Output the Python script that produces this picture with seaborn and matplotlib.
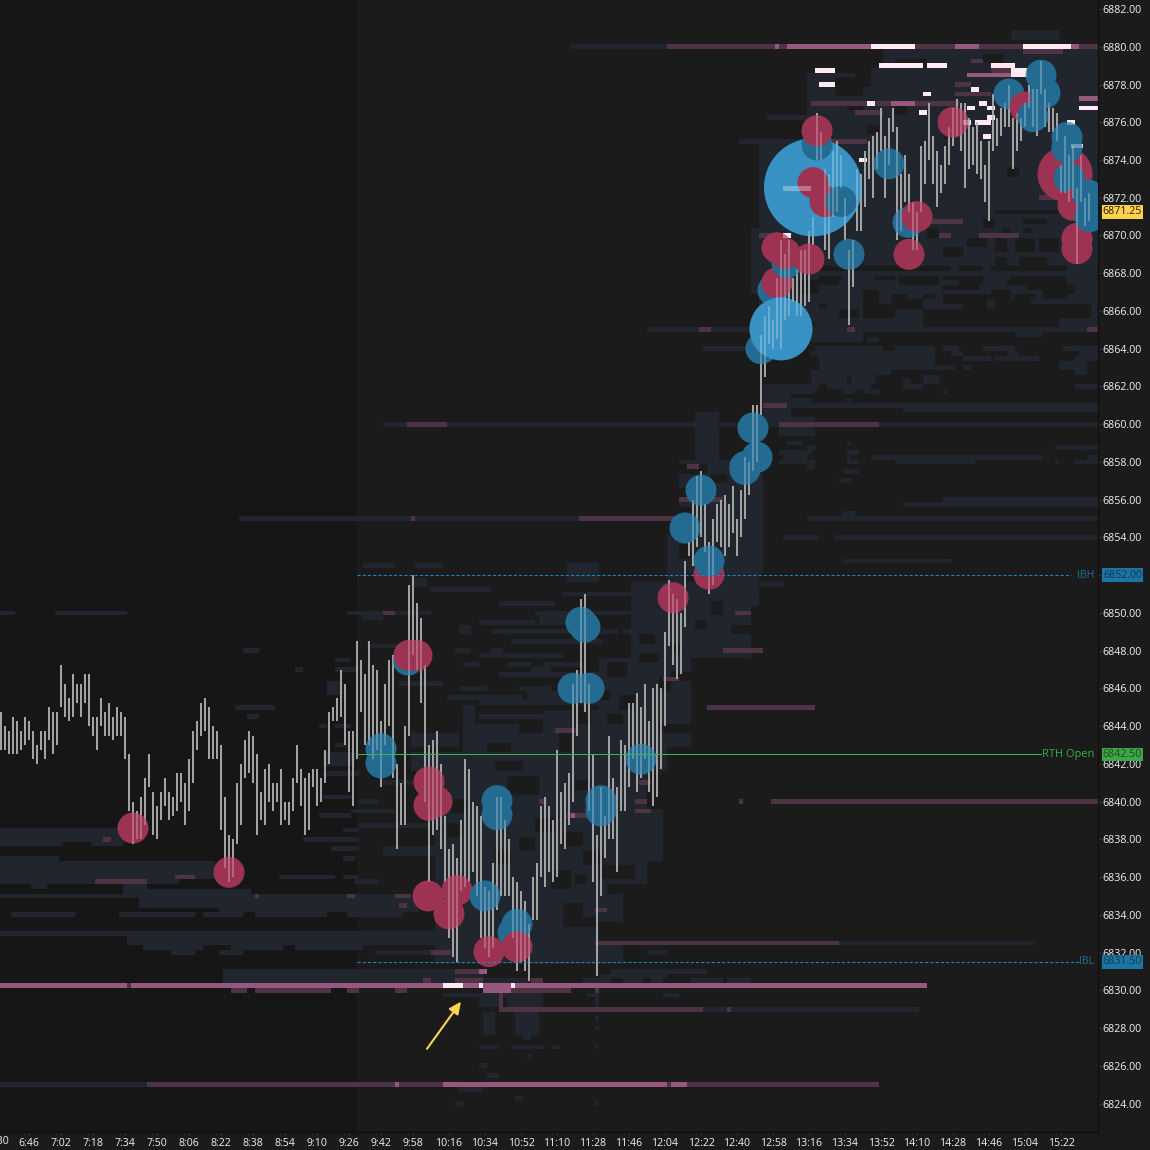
import numpy as np
import pandas as pd
import seaborn as sns
import matplotlib
matplotlib.use("Agg")
import matplotlib.pyplot as plt
from matplotlib.colors import ListedColormap
from matplotlib.transforms import blended_transform_factory

# bars are two minutes apart, first one at 6:32
FIRST_BAR_MIN = 392
BAR_HIGHS = [
    6844.75, 6844, 6843.75, 6844.5, 6844.25, 6843.75, 6844.5, 6844.25, 6843.75, 6843, 6843.75, 6843.75,
    6845, 6844.75, 6844.75, 6847.25, 6846.25, 6845.5, 6846.75, 6846.25, 6846.25, 6846.75, 6846.75, 6844.5,
    6844.5, 6845.5, 6844.75, 6845.25, 6844.5, 6845, 6844.75, 6844.5, 6842.5, 6840, 6839.5, 6840.25,
    6841.25, 6842.5, 6840.5, 6839.75, 6840.5, 6841.25, 6840.5, 6840.25, 6841.5, 6841.5, 6841, 6842.25,
    6843.75, 6844.25, 6845.25, 6845.5, 6845, 6844, 6843.75, 6843, 6840.25, 6838.25, 6838, 6841,
    6842, 6843.25, 6843.75, 6843.5, 6842.5, 6840.5, 6841.75, 6842, 6841, 6841, 6841.75, 6840,
    6840, 6841.25, 6843, 6841.75, 6841.25, 6841.5, 6841.75, 6841.75, 6841.25, 6842.75, 6844.75, 6845,
    6845.5, 6847, 6846.25, 6843.75, 6843.75,
    6848.5, 6847.5, 6846.75, 6848.5, 6847.25, 6847, 6844.25, 6846.25, 6847.5, 6847.75, 6842, 6841,
    6844, 6851.5, 6852, 6850.5, 6849.75, 6847.25, 6843, 6843.25, 6843.75, 6842, 6839.25, 6837.5,
    6837.75, 6837, 6839, 6842.25, 6841.75, 6840, 6839.75, 6839.25, 6835.5, 6835.25, 6836.75, 6840.25,
    6840.25, 6839, 6838, 6836, 6835.75, 6835.25, 6834.75, 6833.5, 6836, 6836.75, 6839.75, 6840.25,
    6839.75, 6839, 6842.75, 6840.5, 6841, 6841.5, 6846.25, 6847, 6850.75, 6851, 6846.25, 6842.5,
    6838.25, 6840.75, 6839.25, 6843.5, 6841.25, 6840.75, 6843.25, 6843, 6845.25, 6845.25, 6845.75, 6845,
    6846.25, 6844.25, 6846, 6846.25, 6846, 6849, 6851.75, 6851, 6850.75, 6850, 6852.75,
    6853.75, 6856, 6857.25, 6857.5, 6855.75, 6853.75, 6855, 6855.75, 6856, 6856.25, 6855.75, 6856.75,
    6855, 6856.5, 6858.25, 6858, 6861, 6861, 6864.75, 6865.75, 6866.25, 6865.5,
    6867.75, 6869.75, 6869, 6869.75, 6867.75, 6868.25, 6869.25, 6869.25, 6870.25, 6871, 6876.5, 6875.5,
    6873.5, 6873.25, 6874.5, 6875, 6874.25, 6872, 6869.25, 6869.75, 6873.5, 6873.25, 6874.5, 6875,
    6875.25, 6875.5, 6876.75, 6875.25, 6876.25, 6876.75, 6875.75, 6873.25, 6874.25, 6873.25, 6871.75, 6871.25,
    6874.75, 6875, 6877, 6875.25, 6874.5, 6873.75, 6874.75, 6875.75, 6876.75, 6877.25, 6877, 6877,
    6876.25, 6875.75, 6876, 6875, 6873.75, 6875, 6877.5, 6876.25, 6876.75, 6877, 6878, 6876.25,
    6876.5, 6876.25, 6877, 6878, 6877.75, 6877.75, 6879.25, 6877.75, 6877, 6876.75, 6876.5,
    6873.75, 6875.25, 6874.25, 6874.75, 6872.5, 6874.25, 6872, 6872.25,
]
BAR_LOWS = [
    6842.75, 6842.75, 6842.5, 6842.5, 6842.5, 6842.75, 6843, 6843.25, 6842.25, 6842, 6842.75, 6842.25,
    6843.25, 6842.5, 6843, 6845, 6844.5, 6844.25, 6844.5, 6845.25, 6844.5, 6845.25, 6844, 6843.5,
    6842.75, 6844, 6843.5, 6843.5, 6843.25, 6843.5, 6843.5, 6842.25, 6839.5, 6837.75, 6838, 6838,
    6838.75, 6840.75, 6838.25, 6838, 6839, 6839.75, 6839, 6839.25, 6839.5, 6840, 6838.75, 6839.5,
    6841, 6842.75, 6843.5, 6843.75, 6842.25, 6842.25, 6842.25, 6838.5, 6836.5, 6835.75, 6836, 6837.75,
    6838.75, 6841.25, 6841.5, 6841, 6838.25, 6839, 6838.75, 6840, 6839.5, 6840, 6838.75, 6839,
    6838.75, 6839.5, 6841, 6839.75, 6838.25, 6838.5, 6840.75, 6839.75, 6840, 6841, 6842, 6844.25,
    6844.25, 6844.5, 6843, 6840.5, 6839.75,
    6842.25, 6844.75, 6843, 6843, 6842.25, 6842.75, 6840.75, 6843, 6844, 6841.25, 6837.5, 6838.75,
    6838.75, 6843.5, 6847.75, 6847, 6845.25, 6840, 6835.75, 6838.25, 6838.5, 6837.5, 6835.75, 6832.75,
    6831.75, 6831.5, 6835.25, 6835.5, 6835.75, 6836.25, 6835, 6832.75, 6832.25, 6831.75, 6832.25, 6834.25,
    6835, 6835, 6835, 6832.75, 6831, 6831.5, 6831, 6830.5, 6833.75, 6833.75, 6836, 6835.5,
    6836.25, 6835.75, 6836, 6837.75, 6837.5, 6838.75, 6840, 6843.5, 6845.25, 6844.75, 6839.5, 6835.75,
    6830.75, 6835, 6837, 6838, 6838, 6836.25, 6839.5, 6839.5, 6840.75, 6842.25, 6840.5, 6841.25,
    6842.25, 6840.5, 6839.75, 6840.25, 6841.75, 6844, 6848.25, 6847.25, 6846.5, 6846.75, 6849.25,
    6853, 6852.5, 6853.5, 6854, 6853.25, 6851, 6851.5, 6853.75, 6853.5, 6853, 6853.5, 6854.25,
    6853, 6854, 6855, 6856.25, 6857.5, 6858, 6860.5, 6862.5, 6864.25, 6864,
    6864.5, 6864, 6865.5, 6865.75, 6866.5, 6865.75, 6865.75, 6866.25, 6866.5, 6869.5, 6874, 6874,
    6869.25, 6868.75, 6871, 6871.25, 6872.5, 6869.75, 6865.25, 6867.25, 6870.25, 6870.25, 6871.5, 6873,
    6872, 6873.5, 6874.5, 6872, 6873.75, 6875.5, 6869.75, 6870.25, 6871.75, 6871.25, 6869.25, 6869.25,
    6871.25, 6872.75, 6874, 6872.75, 6871.5, 6872.25, 6872.75, 6873.75, 6874.75, 6875.25, 6874.5, 6872.5,
    6873.5, 6873.75, 6873.25, 6873, 6871.75, 6870.75, 6874.5, 6874.75, 6875.25, 6875.75, 6875.75, 6873.5,
    6874.5, 6875, 6875.75, 6876.75, 6875.75, 6875.25, 6877.5, 6875.75, 6875.5, 6875.5, 6875,
    6872.25, 6872.25, 6871.75, 6872, 6868.5, 6871.75, 6870.5, 6870.75,
]

# large trades: minute of day, price, side, diameter class, in drawing order
BUBBLE_MIN = [458, 506, 582, 582, 595.5, 600, 596, 606, 610, 606, 640, 640, 605.5, 620, 616, 634, 648, 650,
              636, 650, 682, 684, 678, 686, 712, 692, 692, 728, 742, 734, 746, 746, 768, 770, 764, 764,
              772, 778, 780, 782, 780, 785.5, 785, 784, 796, 798, 798, 804, 812, 800, 800, 816, 836, 845.5,
              850, 846, 868, 896, 904, 912, 914, 908, 924, 925, 925, 926, 928, 930, 930, 935.5, 936.5]
BUBBLE_PRICE = [6838.6, 6836.25, 6842.8, 6842.05, 6847.5, 6847.75, 6847.75, 6841.05, 6840, 6839.8, 6840.05, 6839.3, 6835, 6835.3, 6834.05, 6835, 6833.05, 6833.5,
                6832.05, 6832.3, 6849.5, 6849.25, 6846, 6846, 6842.25, 6840.05, 6839.5, 6850.8, 6856.5, 6854.5, 6852.05, 6852.75, 6859.8, 6858.25, 6857.75, 6857.6,
                6864, 6867.1, 6867.5, 6865.05, 6869.35, 6868.8, 6868.55, 6869.05, 6868.75, 6872.55, 6872.8, 6871.8, 6871.8, 6874.8, 6875.55, 6869, 6873.8, 6870.7,
                6871, 6869, 6876, 6877.5, 6876.8, 6878.5, 6877.55, 6876.3, 6873.25, 6875.2, 6874.65, 6873.05, 6871.6, 6869.85, 6869.3, 6872.15, 6871]
BUBBLE_SIDE = ["sell", "sell", "buy", "buy", "buy", "sell", "sell", "sell", "sell", "sell", "buy", "buy", "sell", "sell", "sell", "buy", "buy", "buy",
               "sell", "sell", "buy", "buy", "buy", "buy", "buy", "buy", "buy", "sell", "buy", "buy", "sell", "buy", "buy", "buy", "buy", "buy",
               "buy", "buy", "sell", "large", "sell", "buy", "buy", "sell", "sell", "large", "sell", "sell", "buy", "buy", "sell", "buy", "buy", "buy",
               "sell", "sell", "sell", "buy", "sell", "buy", "buy", "buy", "sell", "buy", "buy", "buy", "sell", "sell", "sell", "buy", "buy"]
BUBBLE_CLASS = ["m", "m", "m", "m", "m", "m", "m", "m", "m", "m", "m", "m", "m", "m", "m", "m", "m", "m",
                "m", "m", "m", "m", "m", "m", "m", "m", "m", "m", "m", "m", "m", "m", "m", "m", "m", "m",
                "m", "m", "m", "l", "m", "m", "m", "m", "m", "xl", "m", "m", "m", "m", "m", "m", "m", "m",
                "m", "m", "m", "m", "m", "m", "m", "m", "k", "m", "m", "m", "m", "m", "m", "m", "m"]

Y_TICKS = list(range(6824, 6884, 2))
X_TICK_MIN = [406, 422, 438, 454, 470, 486, 502, 518, 534, 550, 566, 582, 598, 616, 634, 652, 670, 688, 706, 724, 742, 760, 778,
              796, 814, 832, 850, 868, 886, 904, 922]
X_TICK_LABELS = ["6:46", "7:02", "7:18", "7:34", "7:50", "8:06", "8:22", "8:38", "8:54", "9:10", "9:26", "9:42", "9:58", "10:16",
                 "10:34", "10:52", "11:10", "11:28", "11:46", "12:04", "12:22", "12:40", "12:58", "13:16", "13:34", "13:52", "14:10",
                 "14:28", "14:46", "15:04", "15:22"]
RTH_START = 570
IBH, IBL, RTH_OPEN, LAST_PRICE = 6852.0, 6831.5, 6842.5, 6871.25

# resting-liquidity cells: (price high, price low, first bar, last bar)
HEAT_BLUE = [
    (6838.5, 6838, 0, 31), (6837.75, 6837.75, 0, 15), (6837.75, 6837.75, 23, 30), (6837, 6837, 0, 14),
    (6836.75, 6836, 0, 53), (6835.75, 6835.75, 0, 44), (6835.5, 6835.5, 8, 11), (6835.5, 6835.5, 31, 36),
    (6835.25, 6835.25, 31, 62), (6835, 6835, 0, 102), (6834.75, 6834.5, 35, 107), (6834.25, 6834.25, 55, 104),
    (6834, 6834, 3, 18), (6834, 6834, 30, 48), (6834, 6834, 51, 60), (6834, 6834, 64, 81), (6834, 6834, 87, 100),
    (6833, 6833, 0, 112), (6832.75, 6832.5, 32, 112), (6832.25, 6832.25, 36, 50), (6832.25, 6832.25, 58, 70),
    (6832.25, 6832.25, 74, 90), (6832, 6832, 43, 48), (6832, 6832, 55, 60), (6832, 6832, 94, 112),
    (6831, 6830.5, 56, 120), (6830.5, 6830.5, 120, 135), (6830.75, 6830.75, 150, 166), (6831, 6831, 153, 176),
    (6830.5, 6830.5, 146, 152), (6830.5, 6830.5, 156, 160), (6830.5, 6830.5, 163, 165), (6830.5, 6830.5, 173, 180),
    (6830.5, 6830.5, 182, 187), (6832, 6832, 149, 166),
    (6829.75, 6829.75, 111, 135), (6829.75, 6829.75, 147, 149), (6829.75, 6829.75, 166, 169),
    (6829.5, 6829.25, 120, 125), (6829.5, 6829.25, 127, 135), (6829.5, 6829.25, 149, 149),
    (6829, 6829, 176, 181), (6829, 6829, 183, 229), (6828.75, 6827.75, 121, 123), (6828.75, 6827.75, 129, 134),
    (6827.5, 6827.5, 131, 132), (6828.5, 6828.5, 149, 149), (6828, 6828, 149, 149),
    (6827, 6827, 120, 124), (6827, 6827, 128, 135), (6827, 6827, 138, 139), (6827, 6827, 149, 149),
    (6826.5, 6826.5, 132, 132), (6826, 6826, 120, 121), (6825.5, 6825.5, 122, 124), (6824.75, 6824.75, 115, 120),
    (6824.25, 6824.25, 129, 130), (6824, 6824, 114, 115), (6824, 6824, 149, 149),
    (6825, 6825, 0, 37), (6832.5, 6832.5, 210, 258), (6880, 6880, 143, 167),
    # left session scatter
    (6850, 6850, 0, 3), (6850, 6850, 14, 31), (6848, 6848, 61, 64), (6845, 6845, 59, 68), (6844.5, 6844.5, 62, 64),
    (6847.5, 6847.5, 84, 87), (6847, 6847, 84, 89), (6847, 6847, 74, 75), (6846.25, 6845.75, 82, 85), (6844, 6844, 80, 81),
    (6844, 6844, 84, 87), (6843, 6843, 84, 86), (6842.5, 6842, 81, 88), (6841.5, 6841.5, 81, 89), (6840.25, 6840.25, 81, 87),
    (6840, 6840, 90, 94), (6839.25, 6839.25, 80, 87), (6838, 6838, 76, 89), (6837.5, 6837.5, 83, 89), (6838.5, 6838.5, 86, 89),
    (6837, 6837, 86, 88), (6836, 6836, 70, 74), (6836, 6836, 75, 83), (6836, 6836, 86, 89), (6835.75, 6835.75, 89, 94),
    # rows across the session
    (6855, 6855, 60, 172), (6860, 6860, 96, 187), (6852.5, 6852.5, 91, 98), (6852.5, 6852.5, 104, 110), (6852.5, 6851.75, 142, 149),
    (6851.75, 6851.5, 103, 106), (6851, 6851, 141, 158), (6850, 6850, 87, 107), (6850, 6850, 134, 162), (6849.75, 6849.75, 91, 95),
    (6849.75, 6849.5, 135, 147), (6849.25, 6849, 115, 117), (6849, 6849, 123, 154), (6849, 6849, 156, 164), (6848, 6848, 114, 117),
    (6848, 6848, 123, 125), (6847.25, 6847.25, 116, 119), (6847.25, 6847.25, 127, 132), (6847.25, 6847.25, 136, 145), (6847, 6847, 133, 137),
    (6846.5, 6846.25, 151, 161), (6846, 6846, 115, 121), (6846, 6846, 130, 137), (6846, 6846, 147, 162), (6845, 6845, 116, 118),
    (6845, 6845, 153, 161), (6844.75, 6844.25, 116, 118), (6844.75, 6844.25, 136, 142), (6844.75, 6844.25, 148, 162),
    (6844, 6843.75, 116, 129), (6844, 6843.75, 136, 142), (6844, 6843.75, 144, 162), (6843.5, 6843, 103, 114), (6843.5, 6842.75, 116, 139),
    (6843.5, 6842.75, 144, 166), (6842.5, 6841.75, 103, 166),
    (6846.25, 6846.25, 100, 110), (6845.5, 6845.5, 112, 130), (6849.5, 6849.5, 120, 133), (6848.5, 6848.5, 128, 150), (6847.75, 6847.75, 120, 140),
    (6846.75, 6846.75, 125, 150), (6845.75, 6845.5, 132, 148), (6845.25, 6845.25, 120, 150), (6851.25, 6851.25, 108, 122), (6850.5, 6850.5, 125, 138),
    (6848.25, 6848.25, 92, 100), (6844.5, 6844.5, 120, 135), (6841, 6841, 96, 108), (6839.5, 6839.5, 88, 98), (6838.75, 6838.75, 90, 107), (6837.5, 6837.25, 96, 108),
    # central session body
    (6841.5, 6831.5, 109, 161), (6839.5, 6837, 155, 165), (6851.5, 6847.75, 158, 187), (6847.5, 6843, 150, 172), (6858, 6852.25, 170, 190),
    (6854, 6851, 167, 170), (6860.5, 6858, 174, 179), (6862, 6860, 191, 197), (6852.25, 6850.5, 176, 189), (6850.5, 6848, 176, 187),
    (6861, 6861, 195, 274), (6865, 6865, 162, 274), (6864, 6864, 176, 187),
    (6865.5, 6865.25, 204, 230), (6865.5, 6865.25, 265, 274), (6864.75, 6864.5, 203, 215), (6864.75, 6864.75, 254, 260), (6864.5, 6864.5, 217, 219),
    (6864, 6864, 204, 220), (6864, 6864, 224, 233), (6864, 6864, 236, 239), (6864, 6864, 246, 253), (6864, 6864, 266, 274),
    (6863.75, 6863.75, 203, 233), (6863.75, 6863.75, 238, 240), (6863.75, 6863.75, 252, 254), (6863.75, 6863.75, 270, 274),
    (6863.5, 6863.5, 205, 233), (6863.5, 6863.5, 241, 247), (6863.5, 6863.5, 249, 259), (6863.5, 6863.5, 269, 274),
    (6863.25, 6863.25, 205, 233), (6863.25, 6863.25, 265, 271), (6863, 6863, 205, 238), (6863, 6863, 241, 242), (6863, 6863, 265, 271),
    (6862.75, 6862.75, 203, 222), (6862.75, 6862.75, 269, 271), (6862.5, 6862.25, 203, 211), (6862.5, 6862.25, 213, 218), (6862.5, 6862.25, 231, 234),
    (6862.25, 6862.25, 226, 227), (6862, 6862, 195, 204), (6862, 6862, 207, 217), (6862, 6862, 226, 230), (6862, 6862, 269, 274),
    (6861.75, 6861.75, 195, 203), (6861.75, 6861.75, 211, 213), (6861.75, 6861.75, 216, 219), (6861.75, 6861.75, 236, 236), (6861.25, 6861.25, 197, 202), (6861.25, 6861.25, 212, 212),
    (6860.75, 6860.75, 226, 274), (6860.25, 6860.25, 198, 203), (6860, 6860, 220, 274), (6859.75, 6859.5, 195, 203),
    (6859, 6859, 197, 200), (6859, 6859, 212, 212), (6858.75, 6858.75, 202, 203), (6858.75, 6858.75, 264, 274), (6858.5, 6858.5, 195, 202), (6858.5, 6858.5, 212, 214),
    (6858.25, 6858.25, 196, 201), (6858.25, 6858.25, 212, 212), (6858.25, 6858.25, 218, 260), (6858.25, 6858.25, 272, 274),
    (6858, 6858, 195, 203), (6858, 6858, 212, 214), (6858, 6858, 224, 243), (6858, 6858, 264, 264), (6858, 6858, 269, 274),
    (6857.75, 6857.75, 202, 203), (6857.5, 6857.5, 211, 214), (6857, 6857, 210, 212),
    (6856, 6856, 236, 274), (6855.75, 6855.75, 226, 274), (6855.25, 6855.25, 211, 213), (6855, 6855, 202, 274), (6854, 6854, 196, 204), (6854, 6854, 209, 274),
    (6852.75, 6852.75, 211, 237), (6851.5, 6851.5, 183, 195),
    # upper right block
    (6880.75, 6880.5, 253, 264), (6879.75, 6879, 221, 274), (6878.75, 6878.75, 218, 274), (6878.5, 6875, 202, 274), (6876.25, 6876.25, 192, 201),
    (6875, 6870.25, 190, 274), (6875, 6875, 185, 201), (6870.25, 6867, 188, 274), (6866.75, 6865.75, 195, 274), (6868, 6865.5, 190, 204),
]
HEAT_GAPS = [
    (6841.25, 6840.5, 127, 134), (6838.25, 6837.75, 141, 145), (6834.5, 6833.5, 141, 145), (6838.75, 6838.25, 112, 115), (6839, 6838.5, 134, 138),
    (6836.25, 6835.5, 138, 142), (6836.5, 6836, 150, 158), (6834.75, 6834.25, 110, 112), (6837.25, 6836.75, 124, 127), (6835.5, 6835.25, 152, 161),
    (6833.5, 6832.75, 150, 161), (6840, 6839.5, 113, 116), (6838, 6837.5, 130, 133), (6837.25, 6836.75, 146, 150), (6842, 6841.75, 124, 130), (6843, 6842.75, 122, 127),
    (6835, 6831.5, 156, 161), (6833.75, 6833.5, 146, 149), (6836, 6835.75, 144, 146), (6839.75, 6839.5, 148, 151), (6841, 6840.75, 144, 147), (6840.5, 6840.25, 110, 112),
    (6850.5, 6850, 178, 180), (6849.5, 6849.25, 174, 176), (6848.75, 6848.5, 160, 163), (6845.5, 6845, 155, 158), (6844, 6843.75, 165, 172), (6846.5, 6846, 165, 167),
    (6847.25, 6846.75, 152, 156), (6846.75, 6846.5, 168, 172), (6845.75, 6845.5, 150, 152), (6844.5, 6844.25, 152, 155), (6848.25, 6848, 168, 170), (6849.25, 6849, 183, 187), (6847.75, 6847.5, 160, 164),
    (6856.5, 6856.25, 170, 174), (6855.5, 6855.25, 170, 172), (6853.5, 6853, 170, 172), (6857.75, 6857.5, 170, 176), (6857.25, 6857, 178, 181),
    # holes in the upper right
    (6871.25, 6871.25, 249, 252), (6871.25, 6871.25, 253, 264), (6870.75, 6870.75, 256, 261), (6870.25, 6870.25, 251, 252), (6870.25, 6870.25, 256, 257),
    (6869.75, 6869.25, 249, 251), (6869.75, 6869.25, 254, 258), (6869.75, 6869.25, 260, 264), (6868.75, 6868.5, 249, 251), (6868.75, 6868.5, 255, 261),
    (6868.25, 6868.25, 200, 237), (6868.25, 6868.25, 240, 245), (6868.25, 6868.25, 248, 266), (6867.75, 6867.5, 225, 234), (6867.5, 6867.5, 240, 245),
    (6867.5, 6867.5, 252, 262), (6867, 6866.75, 248, 252), (6867, 6867, 261, 268), (6867, 6866.5, 216, 219), (6867.5, 6867, 200, 204), (6870.25, 6870, 232, 234),
    (6869.25, 6869, 236, 240), (6868.75, 6868.5, 212, 215), (6867.75, 6867.5, 205, 209), (6869.75, 6869.5, 242, 246), (6870.75, 6870.5, 246, 248),
    (6878.25, 6878, 209, 217), (6877.75, 6877.5, 209, 215), (6877, 6876.75, 212, 215), (6877, 6876.5, 224, 226), (6875.75, 6875.5, 217, 219), (6879.25, 6879, 224, 231),
    (6879.5, 6879.25, 246, 250), (6878.75, 6878.25, 214, 217), (6873.5, 6873.25, 252, 254), (6875.5, 6875.25, 236, 238),
    (6866.5, 6866.25, 223, 230), (6866.75, 6866.5, 236, 246), (6866, 6865.75, 231, 264), (6866.25, 6865.75, 260, 272), (6867.75, 6867.25, 262, 266), (6866.5, 6866, 249, 257), (6866, 6865.75, 210, 214),
    (6867.75, 6867.75, 205, 205), (6867.75, 6867.75, 209, 210), (6867.75, 6867.75, 219, 223), (6867.75, 6867.75, 236, 245), (6867.75, 6867.75, 253, 261), (6867.25, 6867.25, 236, 244), (6867.25, 6867.25, 257, 268),
    (6866.75, 6866.75, 231, 233), (6866.75, 6866.75, 236, 240), (6866.75, 6866.75, 247, 251), (6866.75, 6866.75, 254, 258), (6866.75, 6866.75, 261, 266), (6866.75, 6866.5, 223, 226),
    (6866.25, 6866.25, 253, 268), (6866.25, 6866.25, 241, 246), (6866.25, 6865.75, 216, 223), (6866.25, 6866.25, 205, 206),
]
HEAT_DIM = [
    (6830, 6830, 58, 61), (6830, 6830, 64, 82), (6830, 6830, 87, 89), (6830, 6830, 99, 101), (6830, 6830, 127, 142), (6830, 6830, 149, 149),
    (6829, 6829, 125, 175), (6829.75, 6829, 125, 125), (6829, 6829, 182, 182),
    (6830.5, 6830.5, 106, 107), (6830.5, 6830.5, 114, 120), (6830.5, 6830.5, 133, 135), (6831, 6831, 114, 119),
    (6830.25, 6830.25, 32, 32),
    (6825, 6825, 37, 98), (6825, 6825, 100, 110), (6825, 6825, 167, 167), (6825, 6825, 172, 219),
    (6880, 6880, 167, 193), (6880, 6880, 195, 196), (6880, 6880, 229, 238), (6880, 6880, 245, 255), (6880, 6880, 270, 274),
    (6879.75, 6879.75, 256, 265), (6879.25, 6879.25, 243, 245), (6878.75, 6878.75, 248, 252), (6878, 6878, 239, 242), (6877.5, 6877.5, 239, 247),
    (6877, 6877, 203, 222), (6877, 6877, 229, 239), (6876.5, 6876.5, 214, 220), (6875, 6875, 208, 216), (6872, 6872, 260, 264), (6870.75, 6870.75, 232, 240),
    (6870, 6870, 190, 193), (6870, 6870, 235, 237), (6870, 6870, 245, 254),
    (6850, 6850, 96, 98), (6843.75, 6843.75, 139, 143), (6839.25, 6839.25, 142, 146), (6840, 6840, 159, 161), (6839.5, 6839.5, 159, 162), (6841, 6841, 160, 162),
    (6835, 6835, 87, 87), (6835, 6835, 99, 102), (6834.5, 6834.5, 100, 101), (6832, 6832, 108, 112), (6834.25, 6834.25, 149, 151), (6832.5, 6832.5, 149, 209),
    (6846.5, 6846.5, 166, 169), (6840, 6840, 135, 136), (6848, 6848, 181, 190), (6845, 6845, 177, 203), (6840, 6840, 193, 274), (6840, 6840, 185, 185),
    (6860, 6860, 102, 111), (6855, 6855, 145, 170), (6855, 6855, 103, 103), (6865, 6865, 175, 177), (6865, 6865, 212, 213), (6865, 6865, 272, 274),
    (6861, 6861, 191, 196), (6860, 6860, 195, 219), (6835.75, 6835.75, 24, 36), (6836, 6836, 44, 48), (6838, 6838, 26, 27), (6835, 6835, 64, 64), (6835, 6835, 87, 88),
    (6857.75, 6857.75, 172, 174), (6856, 6856, 170, 180), (6850, 6850, 184, 187),
]
HEAT_MID = [
    (6830.25, 6830.25, 0, 31), (6830.25, 6830.25, 33, 110), (6830.25, 6830.25, 116, 119), (6830.25, 6830.25, 121, 127), (6830.25, 6830.25, 129, 231),
    (6830, 6830, 121, 127), (6831, 6831, 120, 121), (6839.25, 6839.25, 143, 143),
    (6825, 6825, 99, 99), (6825, 6825, 111, 166), (6825, 6825, 168, 171),
    (6880, 6880, 194, 194), (6880, 6880, 197, 217), (6880, 6880, 239, 244), (6880, 6880, 268, 269),
    (6878.5, 6878.5, 242, 252), (6877, 6877, 223, 228), (6877.25, 6877.25, 270, 274), (6869.75, 6869.75, 192, 194),
]
HEAT_BRIGHT = [
    (6830.25, 6830.25, 111, 115), (6830.25, 6830.25, 120, 120), (6830.25, 6830.25, 128, 128),
    (6880, 6880, 218, 228), (6880, 6880, 256, 267),
    (6879, 6879, 220, 230), (6879, 6879, 232, 236), (6879, 6879, 248, 253), (6878.75, 6878.75, 204, 208), (6878.75, 6878.5, 253, 256),
    (6878, 6878, 205, 208), (6877.75, 6877.75, 243, 244), (6877.5, 6877.5, 231, 232), (6877, 6877, 217, 218), (6877, 6877, 245, 246),
    (6876.75, 6876.75, 242, 243), (6876.75, 6876.75, 247, 248), (6876.75, 6876.75, 270, 274), (6876.5, 6876.5, 230, 231), (6876.25, 6876.25, 247, 248),
    (6876, 6876, 244, 247), (6876, 6876, 241, 242), (6876, 6876, 267, 268), (6875.25, 6875.25, 246, 247), (6874.75, 6874.75, 268, 270),
    (6874, 6874, 215, 216), (6872.5, 6872.5, 196, 202), (6870, 6870, 196, 197),
]
HEAT_TOP, HEAT_BOTTOM, HEAT_COLS = 6882.5, 6822.5, 275

sns.set_theme(style="dark", rc={"font.family": "Open Sans"})
plt.rcParams["font.family"] = ["Open Sans", "DejaVu Sans"]

# fill the level grid from the spans
n_rows = int((HEAT_TOP - HEAT_BOTTOM) / 0.25) + 1
grid = np.zeros((n_rows, HEAT_COLS), dtype=int)


def paint(spans, level):
    for hi, lo, first, last in spans:
        r0 = int(round((HEAT_TOP - hi) / 0.25))
        r1 = int(round((HEAT_TOP - lo) / 0.25))
        grid[r0:r1 + 1, first:last + 1] = level


paint(HEAT_BLUE, 1)
paint(HEAT_GAPS, 0)
paint(HEAT_DIM, 2)
paint(HEAT_MID, 3)
paint(HEAT_BRIGHT, 4)

fig = plt.figure(figsize=(11.5, 11.5), dpi=100, facecolor="#1b1b1c")
rect = [0, 18 / 1150, 1098 / 1150, 1132 / 1150]
ax_heat = fig.add_axes(rect, zorder=1, facecolor="#1b1b1c")
ax = fig.add_axes(rect, zorder=2, facecolor="none")
ax_glow = fig.add_axes(rect, zorder=3, facecolor="none")

heat_colors = ListedColormap(["#1b1b1c", "#20252e", "#4e3345", "#97587d", "#ffdff0"])
sns.heatmap(grid, ax=ax_heat, mask=grid == 0, cmap=heat_colors, vmin=-0.5, vmax=4.5, cbar=False,
            xticklabels=False, yticklabels=False)
ax_heat.axvspan(0, (RTH_START - FIRST_BAR_MIN) / 2 + 0.5, color="#161617", lw=0, zorder=0)

# the brightest cells stay visible through the bubbles
sns.heatmap(grid, ax=ax_glow, mask=grid != 4, cmap=ListedColormap(["#ffffff"]), alpha=0.32, cbar=False,
            xticklabels=False, yticklabels=False)
for a in (ax_heat, ax_glow):
    a.set_xlim(0.25, 274.75)
    a.set_ylim(240.54, 0.58)
    a.set_xlabel("")
    a.set_ylabel("")
    a.grid(False)
    for sp in a.spines.values():
        sp.set_visible(False)

# price bars, one line per bar; second pass above the bubbles lets them show through
bar_min = FIRST_BAR_MIN + 2 * np.arange(len(BAR_HIGHS))
bars = pd.DataFrame({
    "minute": np.repeat(bar_min, 2),
    "price": np.column_stack([BAR_HIGHS, BAR_LOWS]).ravel(),
    "bar": np.repeat(np.arange(len(BAR_HIGHS)), 2),
})
sns.lineplot(data=bars, x="minute", y="price", units="bar", estimator=None, color="#838383", lw=1.44,
             solid_capstyle="butt", sort=False, ax=ax, legend=False, zorder=3)

bubbles = pd.DataFrame({"minute": BUBBLE_MIN, "price": BUBBLE_PRICE, "side": BUBBLE_SIDE, "cls": BUBBLE_CLASS})
sns.scatterplot(data=bubbles, x="minute", y="price", hue="side", size="cls",
                palette={"buy": "#246b92", "sell": "#9c3352", "large": "#3892c4"},
                sizes={"m": 498, "k": 1570, "l": 2060, "xl": 4980},
                linewidth=0, ax=ax, legend=False, zorder=4)
sns.lineplot(data=bars, x="minute", y="price", units="bar", estimator=None, color="#ffffff", alpha=0.25, lw=1.44,
             solid_capstyle="butt", sort=False, ax=ax, legend=False, zorder=5)

# session levels
ax.plot([RTH_START, 912], [RTH_OPEN, RTH_OPEN], color="#3cb64a", lw=0.75, zorder=6)
ax.plot([RTH_START, 927], [IBH, IBH], color="#1f86bd", lw=0.75, ls=(0, (3, 2)), zorder=6)
ax.plot([RTH_START, 931], [IBL, IBL], color="#1f86bd", lw=0.75, ls=(0, (3, 2)), zorder=6)
ax.annotate("", xy=(622, 6829.4), xytext=(605, 6826.9),
            arrowprops=dict(arrowstyle="-|>,head_width=0.28,head_length=0.6", color="#ffd351", lw=1.5,
                            shrinkA=0, shrinkB=0), zorder=7)

ax.set_xlim(391.5, 940.5)
ax.set_ylim(6822.49, 6882.48)
ax.yaxis.tick_right()
ax.set_yticks(Y_TICKS)
ax.set_yticklabels([f"{v:.2f}" for v in Y_TICKS])
ax.set_xticks(X_TICK_MIN)
ax.set_xticklabels(X_TICK_LABELS)
ax.tick_params(axis="y", length=2, pad=1.5, labelsize=7.7, labelcolor="#f2f2f2", color="#3a3a3a", width=0.7, right=True, left=False)
ax.tick_params(axis="x", length=2, pad=2.5, labelsize=7.6, labelcolor="#f0f0f0", color="#3a3a3a", width=0.7, bottom=True)
ax.set_xlabel("")
ax.set_ylabel("")
ax.grid(False)
for name, sp in ax.spines.items():
    sp.set_visible(name in ("right", "bottom"))
    sp.set_color("#0f0f10")
    sp.set_linewidth(1)

trans = blended_transform_factory(ax.transAxes, ax.transData)
x_px = lambda px: px / 1098
ax.text(x_px(1094), IBH, "IBH", transform=trans, ha="right", va="center", fontsize=7.6, color="#1d6f9b", zorder=7)
ax.text(x_px(1094), IBL, "IBL", transform=trans, ha="right", va="center", fontsize=7.6, color="#1d6f9b", zorder=7)
ax.text(x_px(1094), RTH_OPEN, "RTH Open", transform=trans, ha="right", va="center", fontsize=7.9, color="#35b045", zorder=7)
for price, fill, ink in [(IBH, "#1c75a3", "#0d3a55"), (RTH_OPEN, "#3fa648", "#174d20"),
                         (IBL, "#1c75a3", "#0d3a55"), (LAST_PRICE, "#ffd24d", "#231a00")]:
    ax.text(x_px(1122.5), price, f"{price:.2f}", transform=trans, ha="center", va="center", fontsize=7.7, color=ink,
            bbox=dict(boxstyle="square,pad=0.12", fc=fill, ec="none"), zorder=8)
# the label cut by the left edge of the frame
ax.text(-1 / 1098, -0.0088, "6:30", transform=ax.transAxes, ha="center", va="center", fontsize=7.6, color="#f0f0f0")

fig.savefig("out.png", dpi=100, facecolor=fig.get_facecolor())
